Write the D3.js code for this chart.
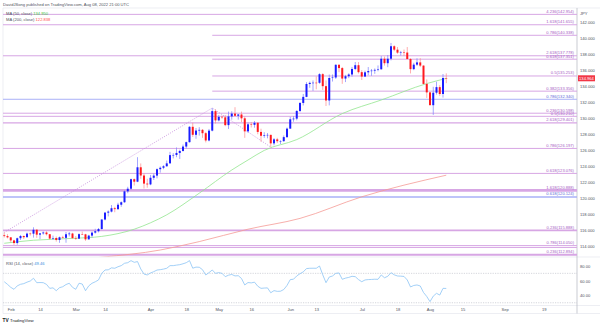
<!DOCTYPE html>
<html><head><meta charset="utf-8">
<script src="https://cdn.jsdelivr.net/npm/d3@7"></script>
<style>html,body{margin:0;padding:0;background:#fff;} svg{display:block;font-family:"Liberation Sans",Arial,sans-serif;}</style>
</head><body><svg id="c" width="600" height="326"></svg>
<script>
// ---------------- DATA ----------------
const firstDay = "2022-01-28";
const lastDay = "2022-08-08";
const opens = [115.34,115.24,
115.08,114.70,114.37,114.97,115.25,115.10,115.55,115.54,116.03,115.42,115.58,115.69,115.47,114.93,115.00,114.75,115.09,115.02,115.47,115.56,
114.99,114.92,115.48,115.46,114.83,115.30,115.67,115.85,116.12,117.31,118.17,118.30,118.72,118.61,119.16,119.47,120.83,121.16,122.35,122.04,123.84,122.81,121.80,
121.70,122.53,122.80,123.60,123.78,123.97,124.33,125.36,125.38,125.63,125.88,126.43,126.98,128.90,127.90,128.43,128.52,128.10,127.19,128.42,130.86,
129.70,130.15,130.08,129.11,130.20,130.55,130.28,130.44,129.96,128.33,129.21,129.15,129.40,128.26,127.78,127.86,127.89,126.83,127.33,127.10,127.11,127.61,
128.67,129.84,129.92,130.88,131.88,132.64,134.25,134.39,134.41,134.40,135.48,133.98,132.19,135.00,135.06,136.65,136.24,134.93,135.22,135.44,136.13,136.60,
135.73,135.18,135.71,135.87,135.92,136.02,136.09,137.41,136.85,137.41,138.97,138.54,138.17,138.22,138.18,137.37,136.11,136.67,136.95,136.55,134.26,
133.20,131.60,133.16,133.86,133.00,135.00];
const highs = [115.68,115.48,
115.12,114.78,115.05,115.38,115.32,115.68,115.68,116.34,116.12,115.63,115.82,115.84,115.50,115.30,115.18,115.18,115.28,115.75,115.75,115.65,
115.24,115.58,115.80,115.52,115.40,115.82,116.15,116.25,117.35,118.26,118.45,119.12,118.90,119.40,119.58,120.95,121.40,122.42,122.44,125.10,124.32,123.07,122.40,
122.88,123.05,123.70,123.95,124.10,124.68,125.77,125.60,126.32,126.04,126.68,127.05,128.97,129.41,128.75,128.85,128.62,128.26,128.63,131.25,131.10,
130.38,130.30,130.36,130.80,130.84,131.35,130.50,130.80,130.18,129.44,129.49,129.62,129.49,128.66,128.22,128.12,127.92,127.49,127.52,127.22,127.82,128.81,
130.14,130.23,130.98,131.98,133.00,134.48,134.56,134.70,135.20,135.59,135.60,134.69,135.43,135.44,136.71,136.72,136.38,135.39,135.59,136.38,137.00,136.99,
135.98,135.92,136.37,136.12,136.19,136.57,137.75,137.68,137.87,139.38,139.09,138.87,138.39,138.56,138.87,137.48,136.90,137.46,137.48,136.58,134.82,
133.27,133.90,134.54,134.11,135.50,135.58];
const lows = [115.06,114.95,
114.47,114.14,114.16,114.75,114.87,115.05,115.30,115.05,115.02,114.86,115.42,115.32,114.82,114.75,114.55,114.40,114.95,114.41,115.20,114.88,
114.77,114.88,115.40,114.65,114.80,115.05,115.55,115.70,116.05,117.20,117.70,118.20,118.22,118.50,118.90,119.40,120.60,121.00,121.56,121.98,122.40,121.18,121.28,
121.60,122.25,122.45,123.17,123.60,123.90,124.31,124.95,125.10,124.88,125.80,126.20,126.93,127.63,127.40,127.80,127.52,126.95,127.08,128.33,129.31,
129.58,129.90,128.97,128.63,129.79,130.20,129.80,129.49,127.52,128.15,128.82,128.79,127.97,127.04,127.52,127.46,126.36,126.58,126.87,126.75,127.01,127.51,
128.66,129.53,129.71,130.74,131.57,132.60,133.77,133.39,133.59,134.28,133.51,131.50,131.58,134.56,134.88,135.73,134.27,134.49,134.99,135.17,135.98,135.56,
134.75,135.15,135.34,135.27,135.52,135.84,136.05,136.55,136.35,137.20,138.36,138.03,137.80,137.74,137.35,135.57,135.98,136.51,136.37,134.21,132.51,
131.60,130.39,132.93,132.77,132.55,134.35];
const closes = [115.24,115.08,
114.70,114.37,114.97,115.25,115.10,115.55,115.54,116.03,115.42,115.58,115.69,115.47,114.93,115.00,114.75,115.09,115.02,115.47,115.56,114.99,
114.92,115.48,115.46,114.83,115.30,115.67,115.85,116.12,117.31,118.17,118.30,118.72,118.61,119.16,119.47,120.83,121.16,122.35,122.04,123.84,122.81,121.80,121.70,
122.53,122.80,123.60,123.78,123.97,124.33,125.36,125.38,125.63,125.88,126.43,126.98,128.90,127.90,128.43,128.52,128.10,127.19,128.42,130.86,129.70,
130.15,130.08,129.11,130.20,130.55,130.28,130.44,129.96,128.33,129.21,129.15,129.40,128.26,127.78,127.86,127.89,126.83,127.33,127.10,127.11,127.61,128.67,
129.84,129.92,130.88,131.88,132.64,134.25,134.39,134.41,134.40,135.48,133.98,132.19,135.00,135.06,136.65,136.24,134.93,135.22,135.44,136.13,136.60,135.73,
135.18,135.71,135.87,135.92,136.02,136.09,137.41,136.85,137.41,138.97,138.54,138.17,138.22,138.18,137.37,136.11,136.67,136.95,136.55,134.26,133.20,
131.60,133.16,133.86,133.00,135.00,134.96];
const rsiValues = [58.6,55,
51,48.3,53,55.1,56,58,59.6,63.3,57.3,57.5,57.3,55,49.6,50.3,46.4,50.5,51.8,54.8,56.5,51,
48.3,56.5,55.5,46.4,53,56.5,58.5,61,70,74.6,74.8,77.5,76.9,79,80.5,83.7,84.5,87.3,85,86,76,69,67.8,
70.5,72.3,74.5,75,75.8,76.9,80.5,80.5,81.2,81.8,83,84.5,87.3,77,78.5,78.3,75,67.8,71,74.6,70,
71,70,65.5,67.5,68.5,66.5,66.8,63,54.2,57.5,57,58,52.5,49.6,50,50.2,43.6,46.5,45.5,45.7,48,53.5,
61.5,62,66.5,69.5,72,76.5,76.9,77,76.9,80,68,57.3,65,66.4,70,70.5,61.9,63.5,64.5,66,65.5,61.5,
58.6,61,61.5,61.7,62,61.9,67.8,64,66,70.9,68,66.4,66.2,65.8,61,51.5,53.5,54.2,52.8,44,38.5,
31.5,39,42.8,40.5,49.6,49.46];
const ma50Points = [["2022-01-28",114.34],["2022-02-10",114.72],["2022-02-28",114.95],["2022-03-11",115.2],["2022-03-18",115.55],["2022-03-25",116.1],["2022-04-01",116.9],["2022-04-08",117.9],["2022-04-22",120.6],["2022-05-06",123.5],["2022-05-13",124.75],["2022-05-20",125.95],["2022-06-03",127.3],["2022-06-23",130.55],["2022-07-11",132.25],["2022-07-29",134.3],["2022-08-08",134.95]];
const ma200Points = [["2022-02-01",111.7],["2022-03-11",112.6],["2022-04-06",113.5],["2022-04-14",114.0],["2022-04-22",114.55],["2022-05-13",116.1],["2022-06-06",117.45],["2022-07-01",120.15],["2022-08-08",122.85]];
const trendPoints = [["2022-01-28",115.7],["2022-04-28",131.25],["2022-05-24",126.36]];
const fibValues = [142.954,141.655,140.338,137.778,137.351,135.253,133.356,132.340,130.598,130.210,129.401,126.197,123.076,120.95,120.124,115.95,114.05,113.82,112.894];
const fibLabels = ["4.236(142.954)","1.618(141.655)","0.786(140.338)","2.618(137.778)","0.618(137.351)","0.5(135.253)","0.382(133.356)","0.786(132.340)","0.236(130.598)","0.5(130.210)","2.618(129.401)","0.786(126.197)","0.618(123.076)","1.618(120.888)","0.618(120.124)","0.236(115.888)","0.786(114.050)","","0.236(112.894)"];
const fibStart = [null,null,"2022-04-28",null,"2022-04-28","2022-04-28","2022-04-28",null,null,null,null,null,null,null,null,null,null,null,null];
const fibKind = ["p","p","p","p","p","p","p","b","p","p","p","p","p","p","b","p","p","p","p"];
const fibWidth = [1,1,1,1,1,1,1,1,1,1,1.3,1,1,2.6,1.3,1.6,1,1,2];
const priceTicks = [142,140,138,136,134,132,130,128,126,124,122,120,118,116,114];
const rsiTicks = [80,60,40];
const rsiBands = [70,30];
const xTickDates = ["2022-02-01","2022-02-14","2022-03-01","2022-03-14","2022-04-01","2022-04-18","2022-05-02","2022-05-16","2022-06-01","2022-06-13","2022-07-01","2022-07-18","2022-08-01","2022-08-15","2022-09-01","2022-09-19"];
const xTickLabels = ["Feb","14","Mar","14","Apr","18","May","16","Jun","13","Jul","18","Aug","15","Sep","19"];
const lastPrice = 134.964;
const ma50Last = "134.950", ma200Last = "122.838", rsiLast = "49.46";

// ---------------- SETUP ----------------
const fmt = d3.timeFormat("%Y-%m-%d");
const parse = d3.timeParse("%Y-%m-%d");
const days = d3.timeDay.range(parse(firstDay), new Date(2022, 9, 1)).filter(d => d.getDay() % 6 !== 0);
const dayIdx = new Map(days.map((d, i) => [fmt(d), i]));
const lastIdx = dayIdx.get(lastDay);
const candles = closes.map((c, i) => ({i, o: opens[i], h: highs[i], l: lows[i], c}));

const L = 3, R = 577;
const PT = 8, PB = 256.5, RT = 257, RB = 305.5;
const x = d3.scaleLinear().domain([0, lastIdx]).range([4.25, 4.25 + 3.25 * lastIdx]);
const y = d3.scaleLinear().domain([142, 114]).range([22, 246]);
const yr = d3.scaleLinear().domain([80, 40]).range([266, 295.4]);

const svg = d3.select("#c");
const FS = 4.1;
const TXT = "#50535e";
const defs = svg.append("defs");
defs.append("clipPath").attr("id", "cp").append("rect").attr("x", L).attr("y", PT).attr("width", R - L).attr("height", PB - PT);
defs.append("clipPath").attr("id", "cr").append("rect").attr("x", L).attr("y", RT).attr("width", R - L).attr("height", RB - RT);

// frame
const frame = svg.append("g").attr("stroke", "#e0e3eb").attr("stroke-width", 0.6);
frame.append("line").attr("x1", L).attr("x2", 600).attr("y1", PT).attr("y2", PT);
frame.append("line").attr("x1", L).attr("x2", L).attr("y1", PT).attr("y2", 313.5);
frame.append("line").attr("x1", L).attr("x2", 600).attr("y1", RT).attr("y2", RT);
frame.append("line").attr("x1", L).attr("x2", 600).attr("y1", RB).attr("y2", RB);
frame.append("line").attr("x1", L).attr("x2", 600).attr("y1", 313.5).attr("y2", 313.5);
svg.append("line").attr("x1", R).attr("x2", R).attr("y1", PT).attr("y2", 313.5).attr("stroke", "#b2b5be").attr("stroke-width", 0.7);

// price pane
const gp = svg.append("g").attr("clip-path", "url(#cp)");
const fib = fibValues.map((v, k) => ({v, lab: fibLabels[k], s: fibStart[k], kind: fibKind[k], w: fibWidth[k]}));
gp.selectAll("line.fib").data(fib).join("line").attr("class", "fib")
  .attr("x1", d => d.s ? x(dayIdx.get(d.s)) : L).attr("x2", R)
  .attr("y1", d => y(d.v)).attr("y2", d => y(d.v))
  .attr("stroke", d => d.kind === "b" ? "#a9b0f7" : "#d7a6e4")
  .attr("stroke-width", d => d.w);

const lineGen = d3.line().x(d => x(dayIdx.get(d[0]))).y(d => y(d[1])).curve(d3.curveMonotoneX);
gp.append("path").attr("d", lineGen(ma200Points)).attr("fill", "none").attr("stroke", "#f59a96").attr("stroke-width", 0.8);
gp.append("path").attr("d", lineGen(ma50Points)).attr("fill", "none").attr("stroke", "#93e68f").attr("stroke-width", 0.8);
gp.append("path").attr("d", d3.line().x(d => x(dayIdx.get(d[0]))).y(d => y(d[1]))(trendPoints))
  .attr("fill", "none").attr("stroke", "#c58cdc").attr("stroke-width", 0.8).attr("stroke-dasharray", "1,1.3");

const UP = "#1a1dff", DN = "#ff1a1f";
const cg = gp.append("g");
cg.selectAll("line.wick").data(candles).join("line").attr("class", "wick")
  .attr("x1", d => x(d.i)).attr("x2", d => x(d.i)).attr("y1", d => y(d.h)).attr("y2", d => y(d.l))
  .attr("stroke", d => d.c >= d.o ? "#7c80ff" : "#ff8a8c").attr("stroke-width", 0.7);
cg.selectAll("rect.body").data(candles).join("rect").attr("class", "body")
  .attr("x", d => x(d.i) - 1).attr("width", 2)
  .attr("y", d => y(Math.max(d.o, d.c))).attr("height", d => Math.max(0.5, Math.abs(y(d.o) - y(d.c))))
  .attr("fill", d => d.c >= d.o ? UP : DN);

// fib labels
svg.append("g").selectAll("text").data(fib.filter(d => d.lab)).join("text")
  .attr("x", 574).attr("y", d => y(d.v) - 1.6).attr("text-anchor", "end")
  .attr("font-size", FS).attr("fill", d => d.kind === "b" ? "#5f6ad8" : "#a65cc4").text(d => d.lab);

// legends
const tl = svg.append("g").attr("font-size", FS);
tl.append("text").attr("x", 3).attr("y", 6.3).attr("fill", TXT).text("DavidJSong published on TradingView.com, Aug 08, 2022 21:00 UTC");
const l1 = tl.append("text").attr("x", 6).attr("y", 14.8).attr("fill", TXT);
l1.append("tspan").text("MA (50, close) ");
l1.append("tspan").attr("fill", "#3cc83c").text(ma50Last);
const l2 = tl.append("text").attr("x", 6).attr("y", 20.9).attr("fill", TXT);
l2.append("tspan").text("MA (200, close) ");
l2.append("tspan").attr("fill", "#ff4d4d").text(ma200Last);
const l3 = tl.append("text").attr("x", 6).attr("y", 264.8).attr("fill", TXT);
l3.append("tspan").text("RSI (14, close) ");
l3.append("tspan").attr("fill", "#3b8de0").text(rsiLast);

// price axis
const ax = svg.append("g").attr("transform", `translate(${R},0)`)
  .call(d3.axisRight(y).tickValues(priceTicks).tickFormat(d3.format(".3f")).tickSize(0).tickPadding(3));
ax.select(".domain").remove();
ax.selectAll("text").attr("font-size", FS).attr("fill", TXT).attr("font-family", null);
svg.append("text").attr("x", 580).attr("y", 14.8).attr("font-size", FS).attr("fill", TXT).text("JPY");
svg.append("rect").attr("x", 578).attr("y", y(lastPrice) - 3).attr("width", 17).attr("height", 6).attr("fill", "#f23645");
svg.append("text").attr("x", 586.5).attr("y", y(lastPrice) + 1.4).attr("text-anchor", "middle").attr("font-size", FS).attr("fill", "#fff").text(lastPrice.toFixed(3));

// RSI pane
const gr = svg.append("g").attr("clip-path", "url(#cr)");
gr.selectAll("line.band").data(rsiBands).join("line").attr("class", "band")
  .attr("x1", L).attr("x2", R).attr("y1", d => yr(d)).attr("y2", d => yr(d))
  .attr("stroke", "#b8bbc4").attr("stroke-width", 0.6).attr("stroke-dasharray", "1.2,1.2");
gr.append("path").attr("d", d3.line().x((d, i) => x(i)).y(d => yr(d))(rsiValues))
  .attr("fill", "none").attr("stroke", "#8cc4f5").attr("stroke-width", 0.8);
const ar = svg.append("g").attr("transform", `translate(${R},0)`)
  .call(d3.axisRight(yr).tickValues(rsiTicks).tickFormat(d3.format(".2f")).tickSize(0).tickPadding(3));
ar.select(".domain").remove();
ar.selectAll("text").attr("font-size", FS).attr("fill", TXT).attr("font-family", null);

// time axis
const xt = svg.append("g").attr("transform", `translate(0,${RB})`)
  .call(d3.axisBottom(x).tickValues(xTickDates.map(d => dayIdx.get(d))).tickFormat((d, k) => xTickLabels[k]).tickSize(0).tickPadding(2.2));
xt.select(".domain").remove();
xt.selectAll("text").attr("font-size", FS).attr("fill", TXT).attr("font-family", null);

// logo
const lg = svg.append("g");
lg.append("text").attr("x", 2.6).attr("y", 321.8).attr("font-size", 4.8).attr("font-weight", "bold").attr("fill", "#131722").text("TV");
lg.append("text").attr("x", 10).attr("y", 321.6).attr("font-size", 4.3).attr("fill", "#131722").text("TradingView");
</script></body></html>
